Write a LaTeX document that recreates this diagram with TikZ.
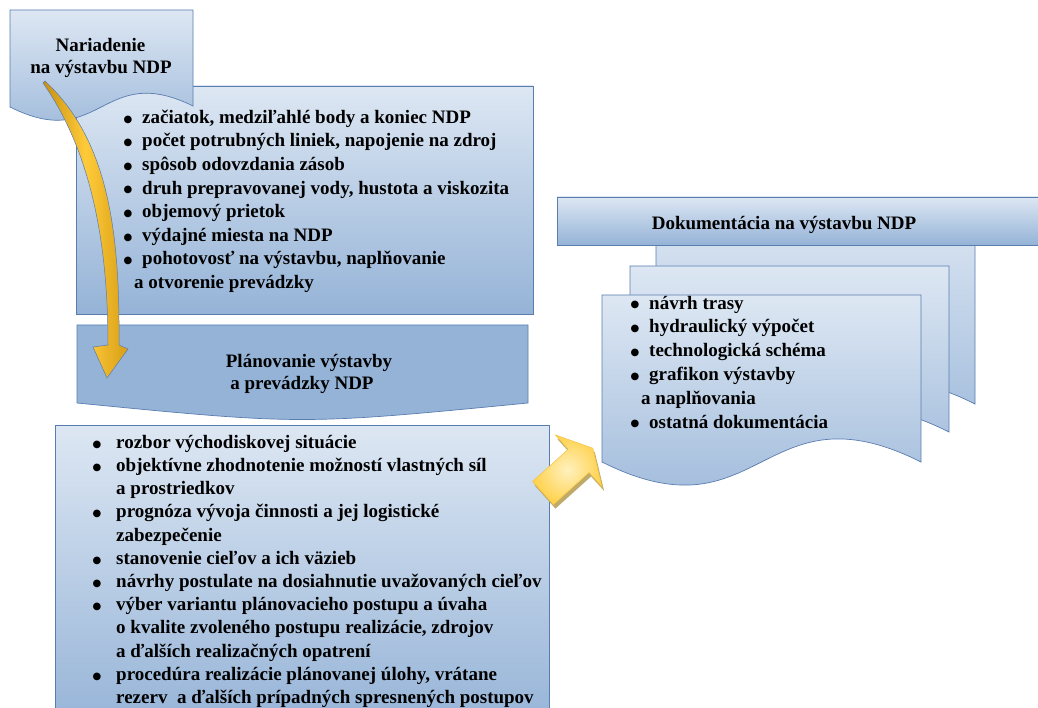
\documentclass[tikz,border=0pt]{standalone}
\usepackage{fontspec}
\setmainfont{Liberation Serif}[BoldFont={Liberation Serif Bold}]
\newfontfamily\dejavubul{DejaVu Sans}
\newcommand{\bul}{\raisebox{1.2pt}{\dejavubul\fontsize{10}{0}\selectfont ●}}
\begin{document}
\definecolor{edgeblue}{HTML}{5A7DB0}
\definecolor{boxtop}{HTML}{DDE7F3}
\definecolor{boxbot}{HTML}{95B3D7}
\definecolor{planfill}{HTML}{95B3D7}
\definecolor{golddark}{HTML}{C8900F}
\definecolor{goldmid}{HTML}{FFCB3A}
\definecolor{goldright}{HTML}{D89E16}
\definecolor{arrowin}{HTML}{FFF1BE}
\definecolor{arrowout}{HTML}{FFD24E}
\definecolor{arrowedge}{HTML}{F2C444}
\definecolor{khaki}{HTML}{BFAA6A}
\begin{tikzpicture}[x=1pt,y=-1pt,
  edgeline/.style={draw=edgeblue, line width=0.7pt},
  paleshade/.style={edgeline, top color=boxtop, bottom color=boxbot},
  listtxt/.style={inner sep=0pt, anchor=north west},
  headtxt/.style={inner sep=0pt, anchor=base, font=\fontsize{19}{22}\selectfont\bfseries},
  goldarrow/.style={draw=edgeblue, line width=0.5pt, left color=golddark, right color=goldright, middle color=goldmid},
  blockarrow/.style={draw=arrowedge, line width=0.5pt, inner color=arrowin, outer color=arrowout}]
\clip (0,0) rectangle (1038,708);

% box with first list
\path[paleshade] (76,86) rectangle (533,314);
% Nariadenie document shape
\path[paleshade] (10,10) -- (193,10) -- (193,106) .. controls (101.5,61) and (101.5,153) .. (10,107) -- cycle;
\node[headtxt] (nar1) at (100.5,52) {Nariadenie};
\node[headtxt] (nar2) at (101,74) {na výstavbu NDP};

\node[listtxt, font=\fontsize{19}{23.6}\selectfont\bfseries] (list1) at (123.5,106.5) {%
\begin{tabular}{@{}p{18.5pt}@{}l@{}}
\bul & začiatok, medziľahlé body a koniec NDP\\
\bul & počet potrubných liniek, napojenie na zdroj\\
\bul & spôsob odovzdania zásob\\
\bul & druh prepravovanej vody, hustota a viskozita\\
\bul & objemový prietok\\
\bul & výdajné miesta na NDP\\
\bul & pohotovosť na výstavbu, naplňovanie\\
\multicolumn{2}{@{}l@{}}{\hspace{10.5pt}a otvorenie prevádzky}
\end{tabular}};

% Planovanie
\path[edgeline, fill=planfill] (77,325) -- (528,325) -- (528,403) .. controls (302,425) .. (77,403) -- cycle;
\node[headtxt] (plan1) at (309,367) {Plánovanie výstavby};
\node[headtxt] (plan2) at (302,389) {a prevádzky NDP};

% third box
\path[paleshade] (55,425) rectangle (549,730);
\node[listtxt, font=\fontsize{19}{23.2}\selectfont\bfseries] (list3) at (92.5,431.8) {%
\begin{tabular}{@{}p{23.5pt}@{}l@{}}
\bul & rozbor východiskovej situácie\\
\bul & objektívne zhodnotenie možností vlastných síl\\
 & a prostriedkov\\
\bul & prognóza vývoja činnosti a jej logistické\\
 & zabezpečenie\\
\bul & stanovenie cieľov a ich väzieb\\
\bul & návrhy postulate na dosiahnutie uvažovaných cieľov\\
\bul & výber variantu plánovacieho postupu a úvaha\\
 & o kvalite zvoleného postupu realizácie, zdrojov\\
 & a ďalších realizačných opatrení\\
\bul & procedúra realizácie plánovanej úlohy, vrátane\\
 & rezerv\ \ a ďalších prípadných spresnených postupov
\end{tabular}};

% curved gold arrow
\coordinate (arrowstart) at (43,83);
\coordinate (arrowtip) at (107,378);
\path[goldarrow] (arrowstart) .. controls (90,150) and (108,240) .. (108,345) -- (93,347) -- (arrowtip) -- (128,349) -- (119,345) .. controls (120,230) and (108,140) .. (45,81) -- cycle;

% documentation stack
\path[paleshade] (656,205) -- (975,205) -- (975,404) .. controls (815.5,324) and (815.5,484) .. (656,404) -- cycle;
\path[paleshade] (557,197) rectangle (1045,245);
\node[headtxt] (dokhead) at (784,230) {Dokumentácia na výstavbu NDP};
\path[paleshade] (630,266) -- (949,266) -- (949,432) .. controls (789.5,352) and (789.5,512) .. (630,432) -- cycle;
\path[paleshade] (602,295) -- (921,295) -- (921,462) .. controls (761.5,382) and (761.5,542) .. (602,462) -- cycle;
\node[listtxt, font=\fontsize{19}{23.8}\selectfont\bfseries] (list2) at (630.5,292.3) {%
\begin{tabular}{@{}p{18.5pt}@{}l@{}}
\bul & návrh trasy\\
\bul & hydraulický výpočet\\
\bul & technologická schéma\\
\bul & grafikon výstavby\\
\multicolumn{2}{@{}l@{}}{\hspace{10.5pt}a naplňovania}\\
\bul & ostatná dokumentácia
\end{tabular}};

% yellow block arrow
\begin{scope}[shift={(545,497)}, rotate=42]
\path[fill=khaki] (0,-15.6) -- (48,-15.6) -- (48,-35) -- (67,0) -- (48,35) -- (48,15.6) -- (0,15.6) -- cycle;
\end{scope}
\begin{scope}[shift={(543,493)}, rotate=42]
\path[blockarrow] (0,-15.6) -- (48,-15.6) -- (48,-35) -- (67,0) -- (48,35) -- (48,15.6) -- (0,15.6) -- cycle;
\end{scope}
\end{tikzpicture}
\end{document}
